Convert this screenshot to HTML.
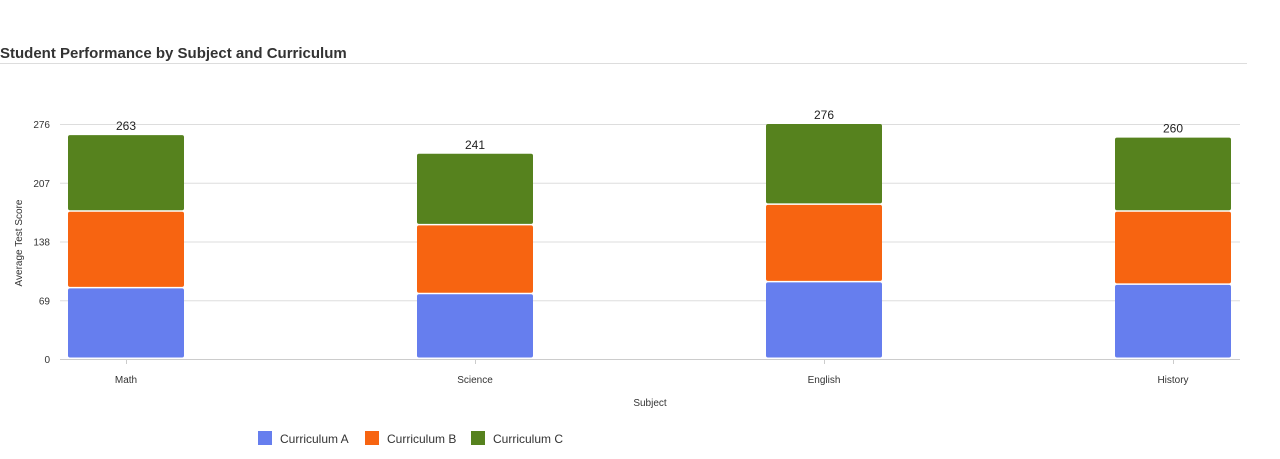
<!DOCTYPE html>
<html><head><meta charset="utf-8"><style>
body{margin:0;background:#fff;width:1280px;height:454px;overflow:hidden;font-family:"Liberation Sans",sans-serif;}
svg text{font-family:"Liberation Sans",sans-serif;}
</style></head><body>
<svg width="1280" height="454">
<text x="0" y="58" font-size="15" font-weight="bold" fill="#333">Student Performance by Subject and Curriculum</text>
<line x1="0" y1="63.5" x2="1247" y2="63.5" stroke="#ddd"/>
<g id="grid"></g><g id="bars"></g>
<text x="22" y="243" font-size="10" fill="#333" text-anchor="middle" transform="rotate(-90 22 243)">Average Test Score</text>
<text x="650" y="406" font-size="10" fill="#333" text-anchor="middle">Subject</text>
<g>
<rect x="258" y="431" width="14" height="14" fill="#667eee"/>
<text x="280" y="443" font-size="12" fill="#333">Curriculum A</text>
<rect x="365" y="431" width="14" height="14" fill="#f76411"/>
<text x="387" y="443" font-size="12" fill="#333">Curriculum B</text>
<rect x="471" y="431" width="14" height="14" fill="#56821e"/>
<text x="493" y="443" font-size="12" fill="#333">Curriculum C</text>
</g>
</svg>
<script>
const categories=["Math","Science","English","History"];
const seriesA=[83,76,90,87];
const seriesB=[90,81,91,86];
const seriesC=[90,84,95,87];
const yTicks=[0,69,138,207,276];
const colors=["#667eee","#f76411","#56821e"];
const NS="http://www.w3.org/2000/svg";
const y0=359,yTop=124,yMax=276,x0=60,x1=1240;
function y(v){return y0-(v/yMax)*(y0-yTop);}
function xc(i){return 126+i*349;}
function mk(t,a,p){const e=document.createElementNS(NS,t);for(const k in a)e.setAttribute(k,a[k]);p.appendChild(e);return e;}
const grid=document.getElementById('grid'),bars=document.getElementById('bars');
yTicks.forEach(t=>{
  const l=mk('line',{x1:x0,x2:x1,y1:y(t)+0.5,y2:y(t)+0.5,stroke:t===0?'#ccc':'#ddd'},grid);
  
  
  const tx=mk('text',{x:50,y:y(t)+4,'font-size':10,fill:'#333','text-anchor':'end'},grid);
  tx.textContent=t;
  
  
});
const series=[seriesA,seriesB,seriesC];
categories.forEach((c,i)=>{
  const cx=xc(i),w=116;
  let acc=0;
  series.forEach((s,k)=>{
    const top=y(acc+s[i]),bot=y(acc);
    const r=mk('rect',{x:cx-w/2,y:top,width:w,height:Math.max(0,bot-top-1.5),rx:2,fill:colors[k]},bars);
    
    
    acc+=s[i];
  });
  const tot=mk('text',{x:cx,y:y(acc)-5,'font-size':12,fill:'#222','text-anchor':'middle'},bars);
  tot.textContent=acc;
  
  
  const tk=mk('line',{x1:cx+0.5,x2:cx+0.5,y1:y0,y2:y0+5,stroke:'#ccc'},grid);
  
  
  const lb=mk('text',{x:cx,y:383,'font-size':10,fill:'#333','text-anchor':'middle'},bars);
  lb.textContent=c;
  
  
});
</script>
</body></html>
